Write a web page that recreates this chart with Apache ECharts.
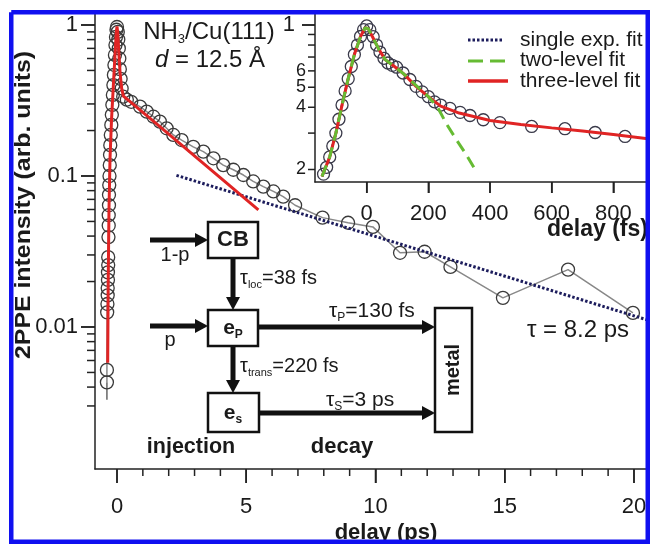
<!DOCTYPE html>
<html><head><meta charset="utf-8">
<script src="https://cdn.jsdelivr.net/npm/echarts@6/dist/echarts.min.js"></script>
<style>html,body{margin:0;padding:0;background:#fff}#c{width:650px;height:544px}</style>
</head><body><div id="c"></div>
<script>
// ---------- main panel data (delay in ps, 2PPE intensity) ----------
const mainDelay = [-0.39,-0.39,-0.38,-0.37,-0.36,-0.36,-0.35,-0.35,-0.34,-0.34,-0.33,-0.32,-0.32,-0.31,-0.31,-0.30,-0.29,-0.28,-0.27,-0.26,-0.24,-0.22,-0.20,-0.18,-0.16,-0.14,-0.12,-0.10,-0.08,-0.06,-0.04,-0.02,0.00,
  0.03,0.05,0.07,0.09,0.11,0.14,0.18,0.24,0.38,0.55,0.89,1.15,1.41,1.66,1.92,2.18,2.5,2.95,3.34,3.73,4.11,4.5,4.89,5.27,5.66,6.05,6.43,6.89,7.95,8.94,9.9,10.95,11.9,12.9,14.93,17.45,19.96];
const mainIntensity = [0.0043,0.0052,0.0125,0.0142,0.0162,0.0181,0.0205,0.023,0.0257,0.029,0.0394,0.047,0.055,0.064,0.075,0.087,0.10,0.118,0.138,0.16,0.187,0.218,0.254,0.296,0.344,0.40,0.467,0.543,0.633,0.737,0.833,0.93,0.97,
  0.90,0.80,0.70,0.60,0.51,0.44,0.38,0.335,0.32,0.31,0.288,0.267,0.247,0.229,0.207,0.187,0.173,0.156,0.145,0.131,0.118,0.110,0.1015,0.092,0.085,0.079,0.073,0.064,0.053,0.049,0.046,0.031,0.0315,0.025,0.0156,0.024,0.0124];
const errBarDelay = [-0.39,-0.39];
const errBarIntensity = [0.0043,0.0033];
const threeLevelMainT = [-0.36,-0.34,-0.31,-0.27,-0.21,-0.14,-0.08,-0.03,0.0,0.03,0.07,0.12,0.18,0.25,1.28,5.47];
const threeLevelMainV = [0.0058,0.02,0.06,0.13,0.24,0.40,0.62,0.88,0.98,0.88,0.66,0.48,0.38,0.338,0.241,0.0596];
const singleExpMainT = [2.3,20.62];
const singleExpMainV = [0.101,0.0110];

// ---------- inset data (delay in fs) ----------
const insetDelay = [-140,-130,-120,-110,-100,-90,-80,-70,-60,-50,-40,-30,-20,-10,0,10,21,32,43,56,69,83,97,118,140,160,180,200,220,240,270,303,335,378,432,535,643,741,838];
const insetIntensity = [0.19,0.205,0.23,0.26,0.30,0.35,0.41,0.48,0.55,0.63,0.72,0.80,0.88,0.95,0.99,0.95,0.878,0.80,0.74,0.69,0.655,0.638,0.625,0.586,0.545,0.505,0.475,0.45,0.425,0.41,0.395,0.378,0.365,0.348,0.337,0.323,0.315,0.302,0.289];
const threeLevelT = [-145,-120,-100,-80,-60,-40,-20,-5,5,20,40,60,90,120,160,200,240,300,400,500,600,700,800,919];
const threeLevelV = [0.185,0.23,0.30,0.41,0.55,0.72,0.88,0.97,0.96,0.87,0.76,0.68,0.63,0.58,0.505,0.45,0.405,0.375,0.345,0.33,0.318,0.307,0.295,0.281];
const twoLevelT = [-145,-120,-100,-80,-60,-40,-20,-5,5,20,40,60,90,120,160,200,230,260,290,320,355];
const twoLevelV = [0.185,0.23,0.30,0.41,0.55,0.72,0.88,0.97,0.96,0.87,0.76,0.68,0.63,0.58,0.51,0.45,0.40,0.33,0.28,0.24,0.196];
const singleExpInsetT = [-145,-120,-100,-80,-60,-40,-20,-5];
const singleExpInsetV = [0.185,0.23,0.30,0.41,0.55,0.72,0.88,0.97];

// ---------- ticks ----------
const mainXTicks = [0,5,10,15,20];
const mainXMinor = [1,2,3,4,6,7,8,9,11,12,13,14,16,17,18,19];
const mainYTicks = [0.01,0.1,1];
const mainYMinor = [0.003,0.004,0.005,0.006,0.007,0.008,0.009,0.02,0.03,0.04,0.05,0.06,0.07,0.08,0.09,0.2,0.3,0.4,0.5,0.6,0.7,0.8,0.9];
const insetXTicks = [0,200,400,600,800];
const insetYTop = [1];
const insetYMinor = [0.2,0.3,0.4,0.5,0.6,0.7,0.8,0.9];
const insetYLabels = [0.2,0.4,0.5,0.6];
const insetYLabelText = ['2','4','5','6'];
const legendNames = ['single exp. fit','two-level fit','three-level fit'];

const MAIN_X = [-0.851, 20.62], MAIN_Y = [0.001147, 1.219];
const INSET_X = [-167.7, 918.9], INSET_Y = [0.174, 1.156];

const F = 'Liberation Sans, Arial, sans-serif';
const TXT = '#1a1a1a';
const TICK = '#222';
const zip = (a,b) => a.map((v,i)=>[v,b[i]]);

function arrow(x1,y1,x2,y2){
  const L=13,W=7,dx=x2-x1,dy=y2-y1,len=Math.hypot(dx,dy),ux=dx/len,uy=dy/len;
  const bx=x2-ux*L, by=y2-uy*L;
  return [
    {type:'line',z:50,shape:{x1:x1,y1:y1,x2:bx+ux,y2:by+uy},style:{stroke:'#111',lineWidth:5}},
    {type:'polygon',z:50,shape:{points:[[x2,y2],[bx-uy*W,by+ux*W],[bx+uy*W,by-ux*W]]},style:{fill:'#111'}}
  ];
}
function box(x,y,w,h){return {type:'rect',z:49,shape:{x:x,y:y,width:w,height:h},style:{fill:'#fff',stroke:'#111',lineWidth:2.5}};}
function txt(x,y,text,opts){
  return Object.assign({type:'text',z:51,x:x,y:y,style:Object.assign({text:text,fontFamily:F,fontSize:20,fill:TXT,align:'center',verticalAlign:'middle'},opts||{})});
}
function sub(x,y,main,s,rest,fs,align,bold){
  const w = bold?'bold':'normal';
  return {type:'text',z:51,x:x,y:y,style:{text:'{a|'+main+'}{b|'+s+'}{a|'+rest+'}',fontFamily:F,fill:TXT,align:align||'left',verticalAlign:'middle',
    rich:{a:{fontSize:fs,fontFamily:F,fontWeight:w,fill:TXT,lineHeight:fs+4},b:{fontSize:Math.round(fs*0.55),fontFamily:F,fontWeight:w,fill:TXT,verticalAlign:'bottom'}}}};
}

const graphics = [];
// diagram
graphics.push(box(208,222,50,36), box(208,310,50,36), box(208,393,51,39), box(435,308,37,124));
graphics.push(...arrow(150,240,208,240), ...arrow(233,258,233,310), ...arrow(150,326,208,326),
  ...arrow(233,346,233,393), ...arrow(258,327,435,327), ...arrow(259,413,435,413));
graphics.push(txt(233,240,'CB',{fontWeight:'bold',fontSize:22}));
graphics.push(sub(233,328,'e','P','',21,'center',true));
graphics.push(sub(233,413,'e','s','',21,'center',true));
graphics.push({type:'text',z:51,x:453,y:370,rotation:Math.PI/2,style:{text:'metal',fontFamily:F,fontSize:20,fontWeight:'bold',fill:TXT,align:'center',verticalAlign:'middle'}});
graphics.push(txt(175,255,'1-p',{fontSize:20}), txt(170,340,'p',{fontSize:20}));
graphics.push(sub(240,278,'τ','loc','=38 fs',20));
graphics.push(sub(240,366,'τ','trans','=220 fs',20));
graphics.push(sub(329,311,'τ','P','=130 fs',21));
graphics.push(sub(326,400,'τ','S','=3 ps',21));
graphics.push(txt(191,447,'injection',{fontWeight:'bold',fontSize:21.5}), txt(342,447,'decay',{fontWeight:'bold',fontSize:22}));
graphics.push(txt(578,330,'τ = 8.2 ps',{fontSize:24}));
// sample label
graphics.push(sub(209,32,'NH','3','/Cu(111)',24,'center'));
graphics.push({type:'text',z:51,x:210,y:60,style:{text:'{i|d}{n| = 12.5 Å}',align:'center',verticalAlign:'middle',rich:{i:{fontSize:24,fontStyle:'italic',fontFamily:F,fill:TXT},n:{fontSize:24,fontFamily:F,fill:TXT}}}});
// axis titles
graphics.push({type:'text',z:51,x:24,y:205,rotation:Math.PI/2,scaleX:1.13,style:{text:'2PPE intensity (arb. units)',fontFamily:F,fontSize:22,fontWeight:'bold',fill:TXT,align:'center',verticalAlign:'middle'}});
graphics.push(txt(386,533,'delay (ps)',{fontWeight:'bold',fontSize:22}));
graphics.push(txt(547,230,'delay (fs)',{fontWeight:'bold',fontSize:23,align:'left'}));
// legend of inset
graphics.push({type:'line',z:51,shape:{x1:468,y1:40,x2:503,y2:40},style:{stroke:'#1c1c5c',lineWidth:3,lineDash:[2.5,2]}});
graphics.push({type:'line',z:51,shape:{x1:468,y1:61,x2:508,y2:61},style:{stroke:'#66bb33',lineWidth:3,lineDash:[15,7]}});
graphics.push({type:'line',z:51,shape:{x1:468,y1:81,x2:508,y2:81},style:{stroke:'#e02424',lineWidth:3.5}});
legendNames.forEach((n,i)=>graphics.push(txt(520,[40,60.5,81][i],n,{fontSize:21,align:'left'})));
// blue frame
graphics.push({type:'polyline',z:100,shape:{points:[[11.25,12.25],[647.75,12.25],[647.75,541.75],[11.25,541.75],[11.25,12.25]]},style:{stroke:'#1010f0',lineWidth:4.5,fill:null}});

const axisLine = {show:true,onZero:false,lineStyle:{color:TICK,width:1.5}};
const lbl = (vals,fs,margin)=>({show:true,customValues:vals,fontSize:fs,fontFamily:F,color:TXT,margin:margin,formatter:v=>String(v)});
const tick = (vals,len)=>({show:true,inside:false,customValues:vals,length:len,lineStyle:{color:TICK,width:1.5}});

// short inset tick labels placed through the inset's own scales
const insetLabelSeries = {type:'custom', xAxisIndex:1, yAxisIndex:1, clip:false, silent:true, z:20,
  data: insetYLabels.map(v => [INSET_X[0], v]),
  renderItem:(params, api) => {
    const p = api.coord([api.value(0), api.value(1)]);
    return {type:'text',x:p[0]-9,y:p[1],style:{text:insetYLabelText[params.dataIndex],fontFamily:F,fontSize:18,fill:TXT,align:'right',verticalAlign:'middle'}};
  }};

const option = {
  animation:false,
  backgroundColor:'#fff',
  grid:[
    {left:95,top:12,width:555,height:457,containLabel:false},
    {left:315,top:12,width:335,height:170,containLabel:false}
  ],
  xAxis:[
    {type:'value',gridIndex:0,position:'bottom',min:MAIN_X[0],max:MAIN_X[1],axisLine:axisLine,splitLine:{show:false},
     axisTick:tick(mainXTicks,14),axisLabel:lbl(mainXTicks,22,27)},
    {type:'value',gridIndex:1,position:'bottom',min:INSET_X[0],max:INSET_X[1],axisLine:axisLine,splitLine:{show:false},
     axisTick:tick(insetXTicks,11),axisLabel:lbl(insetXTicks,22,21)}
  ],
  yAxis:[
    {type:'log',gridIndex:0,position:'left',min:MAIN_Y[0],max:MAIN_Y[1],axisLine:axisLine,splitLine:{show:false},
     axisTick:tick(mainYTicks,14),axisLabel:lbl(mainYTicks,22,17)},
    {type:'log',gridIndex:1,position:'left',min:INSET_Y[0],max:INSET_Y[1],axisLine:axisLine,splitLine:{show:false},
     axisTick:tick(insetYTop,13),axisLabel:lbl(insetYTop,22,20)}
  ],
  series:[
    insetLabelSeries,
    {type:'line',name:'data',xAxisIndex:0,yAxisIndex:0,data:zip(mainDelay,mainIntensity),symbol:'circle',symbolSize:13,
     itemStyle:{color:'rgba(0,0,0,0)',borderColor:'#3a3a3a',borderWidth:1.3},lineStyle:{color:'#888',width:1.5},z:2},
    {type:'line',name:'err',xAxisIndex:0,yAxisIndex:0,data:zip(errBarDelay,errBarIntensity),symbol:'none',lineStyle:{color:'#666',width:1.5},z:2},
    {type:'line',name:'single exp main',xAxisIndex:0,yAxisIndex:0,data:zip(singleExpMainT,singleExpMainV),symbol:'none',
     lineStyle:{color:'#1c1c5c',width:3,type:[2.5,2]},z:4},
    {type:'line',name:'three-level main',xAxisIndex:0,yAxisIndex:0,data:zip(threeLevelMainT,threeLevelMainV),symbol:'none',
     lineStyle:{color:'#e02424',width:3},z:5},
    {type:'line',name:'inset data',xAxisIndex:1,yAxisIndex:1,data:zip(insetDelay,insetIntensity),symbol:'circle',symbolSize:12,
     itemStyle:{color:'rgba(0,0,0,0)',borderColor:'#3a3a4a',borderWidth:1.3},lineStyle:{width:0,opacity:0},z:2},
    {type:'line',name:legendNames[0],xAxisIndex:1,yAxisIndex:1,data:zip(singleExpInsetT,singleExpInsetV),symbol:'none',
     lineStyle:{color:'#1c1c5c',width:2.5,type:[2.5,2]},z:3},
    {type:'line',name:legendNames[2],xAxisIndex:1,yAxisIndex:1,data:zip(threeLevelT,threeLevelV),symbol:'none',
     lineStyle:{color:'#e02424',width:3},z:4},
    {type:'line',name:legendNames[1],xAxisIndex:1,yAxisIndex:1,data:zip(twoLevelT,twoLevelV),symbol:'none',
     lineStyle:{color:'#66bb33',width:3,type:[12,7]},z:5}
  ]
};
const chart = echarts.init(document.getElementById('c'),null,{renderer:'canvas'});
chart.setOption(option);

// all tick marks, positioned through the library's own axis scales
const tickEls = [];
function addY(grid, xEdge, vals, len){
  vals.forEach(v => {
    const p = chart.convertToPixel({gridIndex:grid}, [xEdge, v]);
    if (!p || isNaN(p[1])) return;
    tickEls.push({type:'line',id:'tk'+tickEls.length,z:60,shape:{x1:p[0]-len,y1:p[1],x2:p[0],y2:p[1]},style:{stroke:TICK,lineWidth:1.5}});
  });
}
function addX(grid, yEdge, vals, len){
  vals.forEach(v => {
    const p = chart.convertToPixel({gridIndex:grid}, [v, yEdge]);
    if (!p || isNaN(p[0])) return;
    tickEls.push({type:'line',id:'tk'+tickEls.length,z:60,shape:{x1:p[0],y1:p[1],x2:p[0],y2:p[1]+len},style:{stroke:TICK,lineWidth:1.5}});
  });
}
addX(0, MAIN_Y[0], mainXTicks, 14);
addX(0, MAIN_Y[0], mainXMinor, 7);
addY(0, MAIN_X[0], mainYTicks, 14);
addY(0, MAIN_X[0], mainYMinor, 8);
addX(1, INSET_Y[0], insetXTicks, 11);
addY(1, INSET_X[0], insetYTop, 13);
addY(1, INSET_X[0], insetYMinor, 7);
chart.setOption({graphic:{elements:graphics.concat(tickEls)}});
</script></body></html>
